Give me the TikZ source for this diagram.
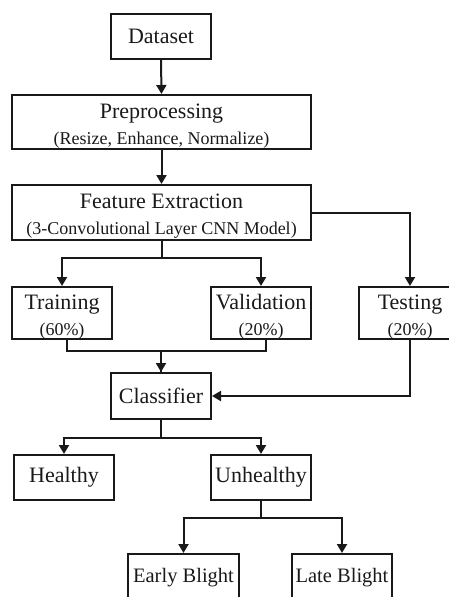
\documentclass[tikz,border=0pt]{standalone}
\usepackage{fontspec}
\setmainfont{Liberation Serif}
\usetikzlibrary{arrows.meta}
\tikzset{
  box/.style={draw=black!90, line width=2pt, rectangle, inner sep=0pt,
    text=black!90, font=\fontsize{22}{26}\selectfont},
  smallbox/.style={box, font=\fontsize{20.5}{26}\selectfont},
  conn/.style={draw=black!90, line width=2pt},
  arr/.style={conn, -{Triangle[length=9pt,width=10pt]}},
}
\newcommand{\subtxt}[1]{{\fontsize{18}{26}\selectfont #1}}
\newcommand{\twoline}[2]{\raisebox{-4pt}[\height][\depth]{\begin{tabular}{@{}c@{}}#1\\\subtxt{#2}\end{tabular}}}
\begin{document}
\begin{tikzpicture}[x=1pt,y=-1pt]
\useasboundingbox (0,0) rectangle (448,597);
\node[box, minimum width=100pt, minimum height=45pt] (data) at (161,36.5) {Dataset};
\node[box, minimum width=299pt, minimum height=54pt] (pre) at (161.5,122) {\twoline{Preprocessing}{(Resize, Enhance, Normalize)}};
\node[box, minimum width=299pt, minimum height=55pt] (feat) at (161.5,212.5) {\twoline{Feature Extraction}{(3-Convolutional Layer CNN Model)}};
\node[box, minimum width=100pt, minimum height=46pt] (train) at (62,313) {\twoline{Training}{(60\%)}};
\node[box, minimum width=100pt, minimum height=46pt] (val) at (261,313) {\twoline{Validation}{(20\%)}};
\node[box, minimum width=102pt, minimum height=46pt] (test) at (410,313) {\twoline{Testing}{(20\%)}};
\node[box, minimum width=100pt, minimum height=46pt] (cls) at (161,396) {Classifier};
\node[box, minimum width=100pt, minimum height=45pt] (healthy) at (64,477.5) {Healthy};
\node[box, minimum width=100pt, minimum height=45pt] (unhealthy) at (261,477.5) {Unhealthy};
\node[smallbox, minimum width=111pt, minimum height=48pt] (early) at (183.5,578) {Early Blight};
\node[smallbox, minimum width=100pt, minimum height=48pt] (late) at (342,578) {Late Blight};

\draw[arr] (data.south) -- (pre.north);
\draw[arr] (pre.south) -- (feat.north);
\draw[arr] (feat.south) -- ++(0,17) -| (train.north);
\draw[arr] (feat.south) -- ++(0,17) -| (val.north);
\draw[arr] (feat.east) -| (test.north);
\draw[arr] ([xshift=5pt]train.south) -- ++(0,11) -| (cls.north);
\draw[conn] ([xshift=5pt]val.south) -- ++(0,11) -| (cls.north);
\draw[arr] (test.south) |- (cls.east);
\draw[arr] (cls.south) -- ++(0,18) -| (healthy.north);
\draw[arr] (cls.south) -- ++(0,18) -| (unhealthy.north);
\draw[arr] (unhealthy.south) -- ++(0,17) -| (early.north);
\draw[arr] (unhealthy.south) -- ++(0,17) -| (late.north);
\end{tikzpicture}
\end{document}
